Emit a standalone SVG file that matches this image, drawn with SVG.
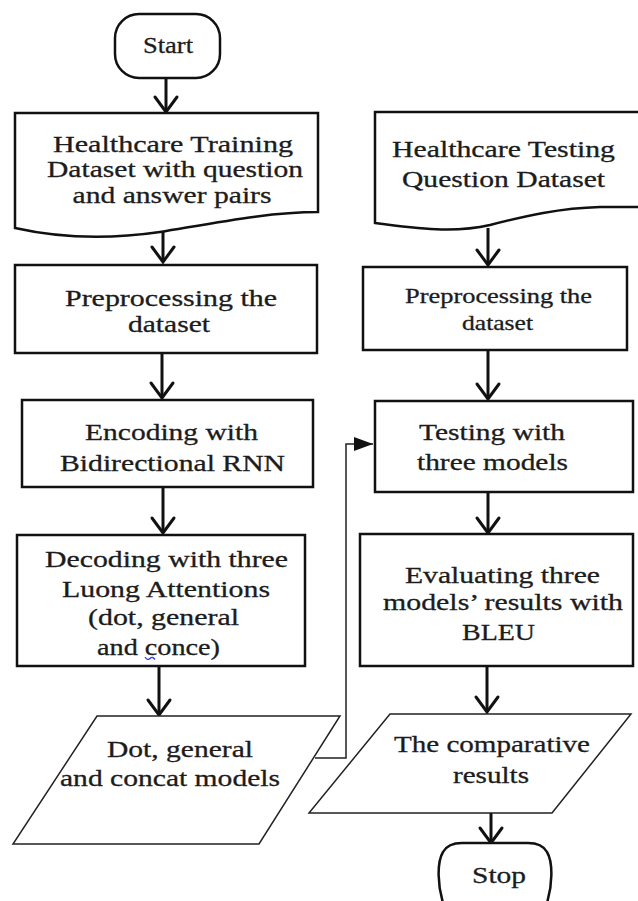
<svg xmlns="http://www.w3.org/2000/svg" width="638" height="901" viewBox="0 0 638 901">
  <defs>
    <style>
      .box { fill: #fff; stroke: #111; stroke-width: 2.5; }
      .io { fill: #fff; stroke: #222; stroke-width: 1.5; stroke-linejoin: miter; }
      .lbl { font-family: "Liberation Serif", "Times New Roman", serif; font-size: 24px; fill: #1c1c1c; stroke: #1c1c1c; stroke-width: 0.3; text-anchor: middle; }
      .sm { font-size: 21px; }
      .flow { fill: none; stroke: #111; stroke-width: 3; }
      .link { fill: none; stroke: #222; stroke-width: 1.5; }
    </style>
    <marker id="chev" viewBox="-19 -14 22 28" markerWidth="22" markerHeight="28" refX="0" refY="0" orient="auto" markerUnits="userSpaceOnUse">
      <path d="M-15,-11 L0,0 L-15,11" fill="none" stroke="#111" stroke-width="3" stroke-linecap="round"/>
    </marker>
    <marker id="tri" viewBox="-20 -8 21 16" markerWidth="21" markerHeight="16" refX="0" refY="0" orient="auto" markerUnits="userSpaceOnUse">
      <path d="M-19,-7 L0,0 L-19,7 Z" fill="#111"/>
    </marker>
  </defs>

  <rect width="638" height="901" fill="#fff"/>

  <!-- connectors -->
  <g id="connectors">
    <path class="flow" d="M166,78 L166,112" marker-end="url(#chev)"/>
    <path class="flow" d="M163,231 L163,262" marker-end="url(#chev)"/>
    <path class="flow" d="M162,353 L162,398" marker-end="url(#chev)"/>
    <path class="flow" d="M163,488 L163,533" marker-end="url(#chev)"/>
    <path class="flow" d="M159,667 L159,715" marker-end="url(#chev)"/>
    <path class="flow" d="M488,228 L488,265" marker-end="url(#chev)"/>
    <path class="flow" d="M488,350 L488,399" marker-end="url(#chev)"/>
    <path class="flow" d="M488,492 L488,533" marker-end="url(#chev)"/>
    <path class="flow" d="M487,666 L487,712" marker-end="url(#chev)"/>
    <path class="flow" d="M491,813 L491,843" marker-end="url(#chev)"/>
    <path class="link" d="M315,758 L346,758 L346,444 L373,444" marker-end="url(#tri)"/>
  </g>

  <!-- left column -->
  <g id="start">
    <rect class="box" x="115" y="14" width="105" height="64" rx="24" ry="24"/>
    <text class="lbl" x="168" y="53" textLength="50" lengthAdjust="spacingAndGlyphs">Start</text>
  </g>

  <g id="training-data">
    <path class="box" d="M318,212 L318,113 L15,113 L15,228 C55,237 105,240 160,232 C220,222 270,212 318,212 Z"/>
    <text class="lbl" x="173" y="152" textLength="240" lengthAdjust="spacingAndGlyphs">Healthcare Training</text>
    <text class="lbl" x="175" y="177" textLength="256" lengthAdjust="spacingAndGlyphs">Dataset with question</text>
    <text class="lbl" x="172" y="203" textLength="199" lengthAdjust="spacingAndGlyphs">and answer pairs</text>
  </g>

  <g id="preprocess-train">
    <rect class="box" x="15" y="265" width="302" height="88"/>
    <text class="lbl" x="171" y="306" textLength="212" lengthAdjust="spacingAndGlyphs">Preprocessing the</text>
    <text class="lbl" x="169" y="332" textLength="82" lengthAdjust="spacingAndGlyphs">dataset</text>
  </g>

  <g id="encoding">
    <rect class="box" x="22" y="400" width="291" height="87"/>
    <text class="lbl" x="171.5" y="440" textLength="173" lengthAdjust="spacingAndGlyphs">Encoding with</text>
    <text class="lbl" x="172.5" y="471" textLength="225" lengthAdjust="spacingAndGlyphs">Bidirectional RNN</text>
  </g>

  <g id="decoding">
    <rect class="box" x="17" y="535" width="288" height="131"/>
    <text class="lbl" x="166.5" y="567" textLength="243" lengthAdjust="spacingAndGlyphs">Decoding with three</text>
    <text class="lbl" x="166" y="597" textLength="208" lengthAdjust="spacingAndGlyphs">Luong Attentions</text>
    <text class="lbl" x="163.5" y="625" textLength="151" lengthAdjust="spacingAndGlyphs">(dot, general</text>
    <text class="lbl" x="158.5" y="655" textLength="123" lengthAdjust="spacingAndGlyphs">and conce)</text>
    <path d="M145,657 q2.5,4 5,1.5 q2.5,-2.5 5,1" fill="none" stroke="#2a3bf0" stroke-width="1.3"/>
  </g>

  <g id="models">
    <polygon class="io" points="97,716 340,716 259,844 13,844"/>
    <text class="lbl" x="180" y="757" textLength="146" lengthAdjust="spacingAndGlyphs">Dot, general</text>
    <text class="lbl" x="170" y="786" textLength="220" lengthAdjust="spacingAndGlyphs">and concat models</text>
  </g>

  <!-- right column -->
  <g id="testing-data">
    <path class="box" d="M645,207 L600,207 C560,208 525,216 490,225 C455,233 420,229 375,223 L375,112 L645,112"/>
    <text class="lbl" x="503.5" y="157" textLength="223" lengthAdjust="spacingAndGlyphs">Healthcare Testing</text>
    <text class="lbl" x="503.5" y="187" textLength="203" lengthAdjust="spacingAndGlyphs">Question Dataset</text>
  </g>

  <g id="preprocess-test">
    <rect class="box" x="363" y="267" width="264" height="83"/>
    <text class="lbl sm" x="498.5" y="303" textLength="187" lengthAdjust="spacingAndGlyphs">Preprocessing the</text>
    <text class="lbl sm" x="497.5" y="330" textLength="71" lengthAdjust="spacingAndGlyphs">dataset</text>
  </g>

  <g id="testing">
    <rect class="box" x="375" y="401" width="258" height="91"/>
    <text class="lbl" x="492" y="440" textLength="146" lengthAdjust="spacingAndGlyphs">Testing with</text>
    <text class="lbl" x="492.5" y="470" textLength="151" lengthAdjust="spacingAndGlyphs">three models</text>
  </g>

  <g id="evaluating">
    <rect class="box" x="360" y="534" width="273" height="132"/>
    <text class="lbl" x="502.5" y="583" textLength="195" lengthAdjust="spacingAndGlyphs">Evaluating three</text>
    <text class="lbl" x="503" y="610" textLength="240" lengthAdjust="spacingAndGlyphs">models’ results with</text>
    <text class="lbl" x="498.5" y="640" textLength="73" lengthAdjust="spacingAndGlyphs">BLEU</text>
  </g>

  <g id="results">
    <polygon class="io" points="390,714 631,714 552,813 309,813"/>
    <text class="lbl" x="492" y="752" textLength="196" lengthAdjust="spacingAndGlyphs">The comparative</text>
    <text class="lbl" x="491" y="783" textLength="76" lengthAdjust="spacingAndGlyphs">results</text>
  </g>

  <g id="stop">
    <path class="box" d="M444,906 C437,885 437,862 443,852 Q448,843 462,843 L528,843 Q542,843 547,852 C553,862 553,885 546,906"/>
    <text class="lbl" x="499" y="883" textLength="54" lengthAdjust="spacingAndGlyphs">Stop</text>
  </g>
</svg>
